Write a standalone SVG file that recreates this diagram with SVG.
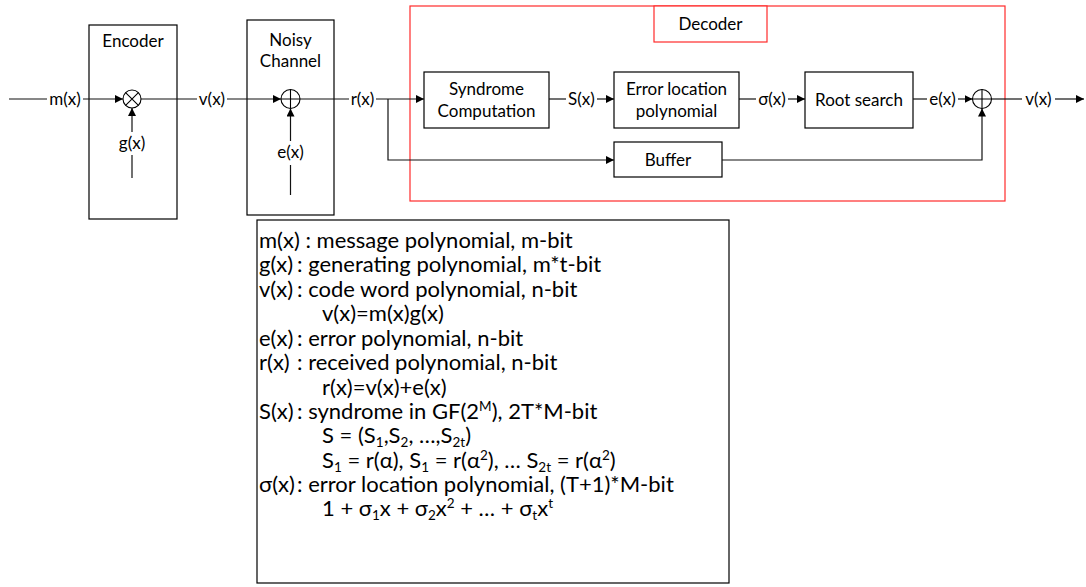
<svg xmlns="http://www.w3.org/2000/svg" width="1086" height="587" viewBox="0 0 1086 587">
  <style>
    .box { fill: #ffffff; stroke: #000000; stroke-width: 1.2; }
    .red { fill: none; stroke: #ff2a2a; stroke-width: 1.2; }
    .wire { fill: none; stroke: #111111; stroke-width: 1.2; }
    .arr { marker-end: url(#head); }
    .t { font-family: Lato, "Open Sans", "Liberation Sans", sans-serif; font-size: 17px; fill: #000000; }
    .c { text-anchor: middle; }
    .lg { font-family: Lato, "Open Sans", "Liberation Sans", sans-serif; font-size: 22px; fill: #000000; }
    .s { font-size: 13.5px; }
  </style>
  <defs>
    <marker id="head" markerUnits="userSpaceOnUse" markerWidth="9" markerHeight="8" refX="8" refY="4" orient="auto">
      <path d="M0,0 L8,4 L0,8 Z" fill="#000000"/>
    </marker>
  </defs>

  <rect width="1086" height="587" fill="#ffffff"/>

  <!-- Encoder -->
  <g id="encoder">
    <rect class="box" x="89" y="25" width="88" height="194"/>
    <text class="t c" x="133" y="47">Encoder</text>
  </g>
  <g id="multiplier">
    <circle cx="132" cy="99" r="9" fill="#ffffff" stroke="#000" stroke-width="1.1"/>
    <path d="M125.6,92.6 L138.4,105.4 M138.4,92.6 L125.6,105.4" stroke="#000" stroke-width="1.1"/>
  </g>

  <!-- Noisy channel -->
  <g id="channel">
    <rect class="box" x="247" y="20" width="87" height="195"/>
    <text class="t c" x="290.5" y="46">Noisy</text>
    <text class="t c" x="290.5" y="67">Channel</text>
  </g>
  <g id="channel-adder">
    <circle cx="290.5" cy="99" r="9.5" fill="#ffffff" stroke="#000" stroke-width="1.1"/>
    <path d="M281,99 L300,99 M290.5,89.5 L290.5,108.5" stroke="#000" stroke-width="1.1"/>
  </g>

  <!-- Decoder -->
  <g id="decoder">
    <rect class="red" x="410" y="6" width="595" height="195"/>
    <rect x="654" y="6" width="113" height="36" fill="#ffffff" stroke="#ff2a2a" stroke-width="1.2"/>
    <text class="t c" x="710.5" y="30">Decoder</text>
  </g>
  <g id="syndrome">
    <rect class="box" x="424" y="72" width="125" height="56"/>
    <text class="t c" x="486.5" y="95">Syndrome</text>
    <text class="t c" x="486.5" y="117">Computation</text>
  </g>
  <g id="error-location">
    <rect class="box" x="614" y="72" width="125" height="56"/>
    <text class="t c" x="676.5" y="95">Error location</text>
    <text class="t c" x="676.5" y="117">polynomial</text>
  </g>
  <g id="root-search">
    <rect class="box" x="805" y="72" width="108" height="56"/>
    <text class="t c" x="859" y="106">Root search</text>
  </g>
  <g id="buffer">
    <rect class="box" x="614" y="142" width="108" height="35"/>
    <text class="t c" x="668" y="166">Buffer</text>
  </g>
  <g id="decoder-adder">
    <circle cx="982" cy="99" r="9.5" fill="#ffffff" stroke="#000" stroke-width="1.1"/>
    <path d="M972.5,99 L991.5,99 M982,89.5 L982,108.5" stroke="#000" stroke-width="1.1"/>
  </g>

  <!-- Signal connectors -->
  <g id="connectors">
    <path class="wire" d="M9,99 H47"/>
    <path class="wire arr" d="M83,99 H123"/>
    <path class="wire" d="M132,178 V155"/>
    <path class="wire arr" d="M132,132 V108"/>
    <path class="wire" d="M141,99 H197"/>
    <path class="wire arr" d="M227,99 H281"/>
    <path class="wire" d="M290.5,195 V165"/>
    <path class="wire arr" d="M290.5,141 V108.5"/>
    <path class="wire" d="M300,99 H349"/>
    <path class="wire arr" d="M376,99 H424"/>
    <path class="wire arr" d="M388,99 V160 H614"/>
    <path class="wire" d="M549,99 H566"/>
    <path class="wire arr" d="M597,99 H614"/>
    <path class="wire" d="M739,99 H756"/>
    <path class="wire arr" d="M788,99 H805"/>
    <path class="wire" d="M913,99 H927"/>
    <path class="wire arr" d="M958,99 H972.5"/>
    <path class="wire arr" d="M722,160 H982 V108.5"/>
    <path class="wire" d="M991.5,99 H1022"/>
    <path class="wire arr" d="M1055,99 H1084"/>
  </g>

  <!-- Connector labels -->
  <g id="labels">
    <text class="t c" x="65" y="105">m(x)</text>
    <text class="t c" x="132" y="149">g(x)</text>
    <text class="t c" x="212" y="105">v(x)</text>
    <text class="t c" x="290.5" y="158">e(x)</text>
    <text class="t c" x="362.5" y="105">r(x)</text>
    <text class="t c" x="581.5" y="105">S(x)</text>
    <text class="t c" x="772" y="105">σ(x)</text>
    <text class="t c" x="942.5" y="105">e(x)</text>
    <text class="t c" x="1038.5" y="105">v(x)</text>
  </g>

  <!-- Legend -->
  <g id="legend">
    <rect x="257" y="220" width="472" height="363" fill="#ffffff" stroke="#000" stroke-width="1.2"/>
    <text class="lg" x="259" y="248">m(x) : message polynomial, m-bit</text>
    <text class="lg" x="259" y="272">g(x)</text>
    <text class="lg" x="297" y="272">: generating polynomial, m*t-bit</text>
    <text class="lg" x="259" y="297">v(x)</text>
    <text class="lg" x="297" y="297">: code word polynomial, n-bit</text>
    <text class="lg" x="322" y="321">v(x)=m(x)g(x)</text>
    <text class="lg" x="259" y="346">e(x)</text>
    <text class="lg" x="297" y="346">: error polynomial, n-bit</text>
    <text class="lg" x="259" y="370">r(x)</text>
    <text class="lg" x="297" y="370">: received polynomial, n-bit</text>
    <text class="lg" x="322" y="395">r(x)=v(x)+e(x)</text>
    <text class="lg" x="259" y="419">S(x)</text>
    <text class="lg" x="297" y="419">: syndrome in GF(2<tspan class="s" dy="-8">M</tspan><tspan dy="8">), 2T*M-bit</tspan></text>
    <text class="lg" x="322" y="443">S = (S<tspan class="s" dy="4">1</tspan><tspan dy="-4">,S</tspan><tspan class="s" dy="4">2</tspan><tspan dy="-4">, …,S</tspan><tspan class="s" dy="4">2t</tspan><tspan dy="-4">)</tspan></text>
    <text class="lg" x="322" y="468">S<tspan class="s" dy="4">1</tspan><tspan dy="-4"> = r(α), S</tspan><tspan class="s" dy="4">1</tspan><tspan dy="-4"> = r(α</tspan><tspan class="s" dy="-8">2</tspan><tspan dy="8">), … S</tspan><tspan class="s" dy="4">2t</tspan><tspan dy="-4"> = r(α</tspan><tspan class="s" dy="-8">2</tspan><tspan dy="8">)</tspan></text>
    <text class="lg" x="259" y="492">σ(x)</text>
    <text class="lg" x="297" y="492">: error location polynomial, (T+1)*M-bit</text>
    <text class="lg" x="322" y="516">1 + σ<tspan class="s" dy="4">1</tspan><tspan dy="-4">x + σ</tspan><tspan class="s" dy="4">2</tspan><tspan dy="-4">x</tspan><tspan class="s" dy="-8">2</tspan><tspan dy="8"> + … + σ</tspan><tspan class="s" dy="4">t</tspan><tspan dy="-4">x</tspan><tspan class="s" dy="-8">t</tspan></text>
  </g>
</svg>
